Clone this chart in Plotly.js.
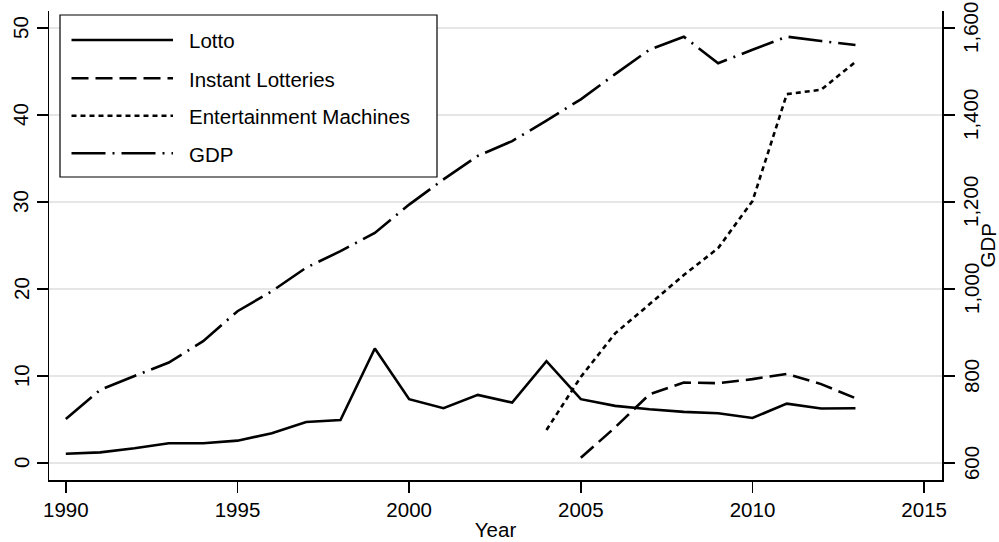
<!DOCTYPE html>
<html><head><meta charset="utf-8">
<script src="https://cdn.plot.ly/plotly-3.0.1.min.js"></script>
<style>html,body{margin:0;padding:0;background:#fff}#chart{width:999px;height:542px}</style>
</head><body><div id="chart"></div><script>
const years = [1990,1991,1992,1993,1994,1995,1996,1997,1998,1999,2000,2001,2002,2003,2004,2005,2006,2007,2008,2009,2010,2011,2012,2013];
const lotto = [1.07,1.23,1.7,2.27,2.27,2.57,3.42,4.72,4.95,13.17,7.34,6.30,7.83,6.95,11.7,7.34,6.57,6.18,5.88,5.72,5.18,6.83,6.26,6.30];
const instantYears = [2005,2006,2007,2008,2009,2010,2011,2012,2013];
const instant = [0.6,4.1,7.9,9.25,9.18,9.64,10.25,9.07,7.45];
const machineYears = [2004,2005,2006,2007,2008,2009,2010,2011,2012,2013];
const machines = [3.8,9.9,14.9,18.2,21.6,24.7,30.1,42.4,42.9,46.1];
const gdp = [701,768,800,831,880,949,995,1049,1087,1129,1194,1252,1306,1340,1387,1436,1494,1550,1580,1519,1550,1580,1570,1561];
const seriesNames = ['Lotto','Instant Lotteries','Entertainment Machines','GDP'];
const xTicks = [1990,1995,2000,2005,2010,2015];
const leftTicks = [0,10,20,30,40,50];
const rightTicks = [600,800,1000,1200,1400,1600];

const FONT = 'Liberation Sans, Arial, Helvetica, sans-serif';
const W = 999, H = 542, M = {l:49, r:57, t:11, b:62};
const PW = W - M.l - M.r, PH = H - M.t - M.b;
const px2x = p => (p - M.l) / PW;
const px2y = p => (H - M.b - p) / PH;

const dashes = ['solid', '17px,7px', '5px,4px', '34px,7px,2px,7px'];
const LW = 2.6;

const traces = [
  {x: years, y: lotto, name: seriesNames[0], yaxis: 'y'},
  {x: instantYears, y: instant, name: seriesNames[1], yaxis: 'y'},
  {x: machineYears, y: machines, name: seriesNames[2], yaxis: 'y'},
  {x: years, y: gdp, name: seriesNames[3], yaxis: 'y2'}
].map((t, i) => Object.assign(t, {
  type: 'scatter', mode: 'lines', showlegend: false, hoverinfo: 'skip',
  line: {color: '#000', width: LW, dash: dashes[i]}
}));

// custom legend (box, samples, labels)
const rowY = [40, 78.3, 115.7, 153.3];
const shapes = [{
  type: 'rect', xref: 'paper', yref: 'paper',
  x0: px2x(60), x1: px2x(437), y0: px2y(177), y1: px2y(15),
  line: {color: '#000', width: 1.2}, fillcolor: '#fff', layer: 'above'
}];
const annotations = [];
const tf = {family: FONT, size: 20.5, color: '#000'};
seriesNames.forEach((n, i) => {
  shapes.push({type: 'line', xref: 'paper', yref: 'paper',
    x0: px2x(71.5), x1: px2x(173), y0: px2y(rowY[i]), y1: px2y(rowY[i]),
    line: {color: '#000', width: LW, dash: dashes[i]}, layer: 'above'});
  annotations.push({xref: 'paper', yref: 'paper', x: px2x(187), y: px2y(rowY[i] + 1),
    xanchor: 'left', yanchor: 'middle', showarrow: false, text: n, font: tf});
});
// vertical tick labels on both y axes
leftTicks.forEach(v => {
  annotations.push({xref: 'paper', yref: 'y', x: 0, xshift: -28, y: v,
    xanchor: 'center', yanchor: 'middle', showarrow: false, text: String(v),
    textangle: -89.9, font: tf});
});
rightTicks.forEach(v => {
  annotations.push({xref: 'paper', yref: 'y2', x: px2x(971), y: v,
    xanchor: 'center', yanchor: 'middle', showarrow: false, text: v.toLocaleString('en-US'),
    textangle: -89.99, font: tf});
});
// right axis title
annotations.push({xref: 'paper', yref: 'paper', x: px2x(988), y: 0.5,
  xanchor: 'center', yanchor: 'middle', showarrow: false, text: 'GDP', textangle: -89.99, font: tf});

const axisCommon = {
  showline: true, linecolor: '#000', linewidth: 1.5,
  ticks: 'outside', ticklen: 11, tickwidth: 1.5, tickcolor: '#000',
  tickfont: tf, zeroline: false
};

const layout = {
  width: W, height: H, margin: M,
  paper_bgcolor: '#fff', plot_bgcolor: '#fff',
  showlegend: false,
  xaxis: Object.assign({}, axisCommon, {
    range: [1989.51, 2015.52], tickvals: xTicks, showgrid: false,
    title: {text: 'Year', font: tf, standoff: 2}
  }),
  yaxis: Object.assign({}, axisCommon, {
    range: [-1.95, 51.95], tickvals: leftTicks, showticklabels: false,
    showgrid: true, gridcolor: '#e6e6e6', gridwidth: 2
  }),
  yaxis2: Object.assign({}, axisCommon, {
    overlaying: 'y', side: 'right', anchor: 'x',
    range: [561, 1639], tickvals: rightTicks, showticklabels: false, showgrid: false
  }),
  shapes: shapes,
  annotations: annotations
};

Plotly.newPlot('chart', traces, layout, {staticPlot: true, displayModeBar: false});
</script></body></html>
